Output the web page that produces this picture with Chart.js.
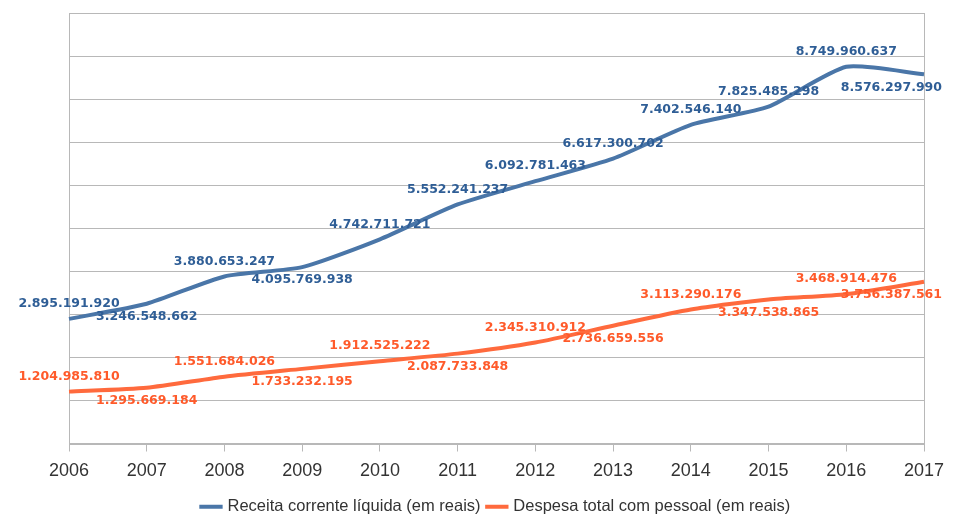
<!DOCTYPE html>
<html>
<head>
<meta charset="utf-8">
<script src="https://cdn.jsdelivr.net/npm/chart.js@4/dist/chart.umd.min.js"></script>
<style>
  html, body { margin: 0; padding: 0; background: #ffffff; }
  #wrap { width: 977px; height: 521px; }
</style>
</head>
<body>
<div id="wrap"><canvas id="c" width="977" height="521"></canvas></div>
<script>
const years = ['2006','2007','2008','2009','2010','2011','2012','2013','2014','2015','2016','2017'];
const receita = [2895191920, 3246548662, 3880653247, 4095769938, 4742711721, 5552241237, 6092781463, 6617300702, 7402546140, 7825485298, 8749960637, 8576297990];
const despesa = [1204985810, 1295669184, 1551684026, 1733232195, 1912525222, 2087733848, 2345310912, 2736659556, 3113290176, 3347538865, 3468914476, 3756387561];
const receitaName = 'Receita corrente líquida (em reais)';
const despesaName = 'Despesa total com pessoal (em reais)';
const receitaLabelSide = ['above','below','above','below','above','above','above','above','above','above','above','below'];
const despesaLabelSide = ['above','below','above','below','above','below','above','below','above','below','above','below'];

function fmt(v) {
  return String(v).replace(/\B(?=(\d{3})+(?!\d))/g, '.');
}

const labelPlugin = {
  id: 'pointLabels',
  afterDatasetsDraw(chart) {
    const ctx = chart.ctx;
    ctx.save();
    ctx.font = 'bold 12.5px "DejaVu Sans"';
    ctx.textBaseline = 'middle';
    ctx.textAlign = 'center';
    chart.data.datasets.forEach((ds, di) => {
      const meta = chart.getDatasetMeta(di);
      meta.data.forEach((pt, i) => {
        const txt = fmt(ds.data[i]);
        const w = ctx.measureText(txt).width;
        let x = pt.x;
        if (x + w / 2 > 942) x = 942 - w / 2;
        const side = ds.labelSide[i];
        const y = side === 'above' ? pt.y - 15 : pt.y + 13;
        ctx.fillStyle = ds.labelColor;
        ctx.fillText(txt, x, y);
      });
    });
    ctx.restore();
  }
};

const borderPlugin = {
  id: 'areaBorder',
  beforeDatasetsDraw(chart) {
    const a = chart.chartArea;
    const ctx = chart.ctx;
    ctx.save();
    ctx.strokeStyle = '#b8b8b8';
    ctx.lineWidth = 1;
    ctx.strokeRect(Math.round(a.left) + 0.5, Math.round(a.top) + 0.5, Math.round(a.right - a.left), Math.round(a.bottom - a.top));
    ctx.restore();
  }
};

new Chart(document.getElementById('c'), {
  type: 'line',
  data: {
    labels: years,
    datasets: [
      {
        label: receitaName,
        data: receita,
        borderColor: '#4a76a8',
        backgroundColor: '#4a76a8',
        borderWidth: 4,
        pointRadius: 0,
        tension: 0.2,
        labelColor: '#2f5e96',
        labelSide: receitaLabelSide
      },
      {
        label: despesaName,
        data: despesa,
        borderColor: '#ff6a3d',
        backgroundColor: '#ff6a3d',
        borderWidth: 4,
        pointRadius: 0,
        tension: 0.2,
        labelColor: '#ff5a2a',
        labelSide: despesaLabelSide
      }
    ]
  },
  options: {
    responsive: false,
    animation: false,
    devicePixelRatio: 1,
    layout: { padding: { left: 69, right: 53, top: 13, bottom: -4 } },
    plugins: {
      legend: {
        position: 'bottom',
        labels: {
          usePointStyle: true,
          pointStyle: 'line',
          boxWidth: 28,
          color: '#333333',
          font: { family: '"Liberation Sans"', size: 16.5, lineHeight: 1 },
          padding: 8
        }
      },
      tooltip: { enabled: false }
    },
    scales: {
      x: {
        offset: false,
        border: { display: true, color: '#b8b8b8' },
        grid: { drawOnChartArea: false, drawTicks: true, tickLength: 8, color: '#b8b8b8' },
        ticks: { color: '#333333', font: { family: '"Liberation Sans"', size: 18 }, padding: 9, maxRotation: 0 },
        afterFit(scale) { scale.height = 47; }
      },
      y: {
        min: 0,
        max: 10000000000,
        border: { display: true, color: '#b8b8b8' },
        grid: { color: '#b8b8b8', drawTicks: false },
        ticks: { display: false, stepSize: 1000000000 },
        afterFit(scale) { scale.width = 0; }
      }
    }
  },
  plugins: [borderPlugin, labelPlugin]
});
</script>
</body>
</html>
